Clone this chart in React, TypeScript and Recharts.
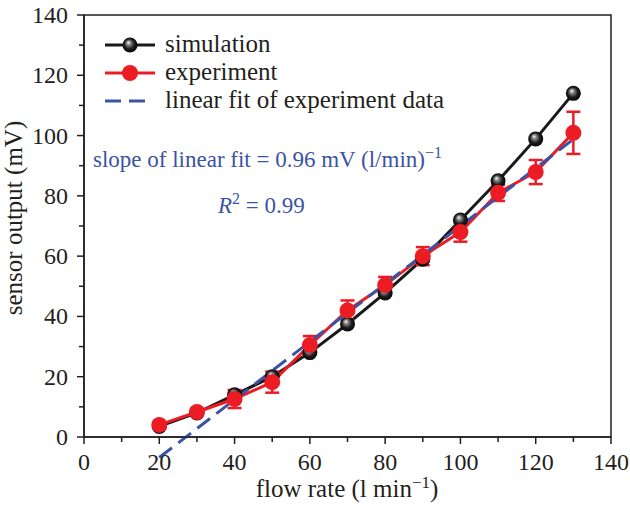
import {
  LineChart,
  Line,
  XAxis,
  YAxis,
  ErrorBar,
  ReferenceLine,
  ReferenceArea,
} from "recharts";

const flowRate = [20, 30, 40, 50, 60, 70, 80, 90, 100, 110, 120, 130];
const simulation = [3.5, 8, 14, 20, 28, 37.5, 47.8, 59, 72, 85, 98.9, 114];
const experiment = [4, 8.3, 12.6, 18.2, 30.5, 42, 50.4, 60, 68, 81, 87.9, 100.9];
const expError = [1, 1, 3, 3.5, 3, 3.3, 2.7, 3, 3.2, 2.7, 4, 7];

// linear fit of experiment data, end points
const fitX = [20, 130];
const fitY = [-6.8, 98.8];

const axisTicks = [0, 10, 20, 30, 40, 50, 60, 70, 80, 90, 100, 110, 120, 130, 140];

const data = flowRate.map((x, i) => ({
  x,
  sim: simulation[i],
  exp: experiment[i],
  err: expError[i],
}));

const FONT = "'Liberation Serif', 'Times New Roman', serif";
const RED = "#ec1c24";
const BLUE = "#3b53a4";
const INK = "#231f20";

const XTick = ({ x, y, payload }: any) => {
  const major = payload.value % 20 === 0;
  return (
    <g>
      <line x1={x} y1={y} x2={x} y2={y + (major ? 7 : 5)} stroke={INK} strokeWidth={1.5} />
      {major && (
        <text x={x} y={y + 33} textAnchor="middle" fontFamily={FONT} fontSize={24} fill={INK}>
          {payload.value}
        </text>
      )}
    </g>
  );
};

const YTick = ({ x, y, payload }: any) => {
  const major = payload.value % 20 === 0;
  return (
    <g>
      <line x1={x} y1={y} x2={x - (major ? 7 : 5)} y2={y} stroke={INK} strokeWidth={1.5} />
      {major && (
        <text x={x - 16} y={y + 8} textAnchor="end" fontFamily={FONT} fontSize={24} fill={INK}>
          {payload.value}
        </text>
      )}
    </g>
  );
};

const SimDot = ({ cx, cy, index }: any) => (
  <circle key={`s-${index}`} cx={cx} cy={cy} r={7.5} fill="url(#sphere)" />
);

const ExpDot = ({ cx, cy, index }: any) => (
  <circle key={`e-${index}`} cx={cx} cy={cy} r={8} fill={RED} />
);

export default function App() {
  return (
    <div style={{ position: "absolute", left: 0, top: 0, width: 630, height: 507 }}>
      <LineChart
        width={630}
        height={507}
        data={data}
        margin={{ top: 15, right: 19, bottom: 0, left: 0 }}
      >
        <defs>
          <radialGradient id="sphere" cx="50%" cy="50%" r="55%" fx="38%" fy="32%">
            <stop offset="0%" stopColor="#ffffff" />
            <stop offset="25%" stopColor="#8a8a8a" />
            <stop offset="60%" stopColor="#1e1e1e" />
            <stop offset="100%" stopColor="#000000" />
          </radialGradient>
        </defs>
        <XAxis
          dataKey="x"
          type="number"
          domain={[0, 140]}
          ticks={axisTicks}
          interval={0}
          height={70}
          tickSize={0}
          tickMargin={0}
          tick={XTick}
          axisLine={{ stroke: INK, strokeWidth: 1.5 }}
        />
        <YAxis
          type="number"
          domain={[0, 140]}
          ticks={axisTicks}
          interval={0}
          width={84}
          tickSize={0}
          tickMargin={0}
          tick={YTick}
          axisLine={{ stroke: INK, strokeWidth: 1.5 }}
        />
        <ReferenceArea x1={0} x2={140} y1={0} y2={140} fill="none" stroke={INK} strokeWidth={1.5} />
        <Line
          dataKey="sim"
          stroke="#1a1a1a"
          strokeWidth={3}
          dot={SimDot}
          activeDot={false}
          isAnimationActive={false}
        />
        <Line
          dataKey="exp"
          stroke={RED}
          strokeWidth={3}
          dot={ExpDot}
          activeDot={false}
          isAnimationActive={false}
        >
          <ErrorBar dataKey="err" direction="y" width={7} strokeWidth={2.5} stroke={RED} />
        </Line>
        <ReferenceLine
          segment={[
            { x: fitX[0], y: fitY[0] },
            { x: fitX[1], y: fitY[1] },
          ]}
          ifOverflow="visible"
          stroke={BLUE}
          strokeWidth={3}
          strokeDasharray="16 8"
        />
      </LineChart>
      <svg
        width={630}
        height={507}
        style={{ position: "absolute", left: 0, top: 0, pointerEvents: "none" }}
        fontFamily={FONT}
      >
        <defs>
          <radialGradient id="sphere2" cx="50%" cy="50%" r="55%" fx="38%" fy="32%">
            <stop offset="0%" stopColor="#ffffff" />
            <stop offset="25%" stopColor="#8a8a8a" />
            <stop offset="60%" stopColor="#1e1e1e" />
            <stop offset="100%" stopColor="#000000" />
          </radialGradient>
        </defs>
        {/* legend */}
        <line x1={105} y1={45} x2={155} y2={45} stroke="#1a1a1a" strokeWidth={3} />
        <circle cx={130} cy={45} r={7.5} fill="url(#sphere2)" />
        <text x={165} y={52} fontSize={25} fill={INK}>simulation</text>
        <line x1={105} y1={73} x2={155} y2={73} stroke={RED} strokeWidth={3} />
        <circle cx={130} cy={73} r={8} fill={RED} />
        <text x={165} y={80} fontSize={25} fill={INK}>experiment</text>
        <line x1={105} y1={101} x2={147} y2={101} stroke={BLUE} strokeWidth={3} strokeDasharray="16 8" />
        <text x={165} y={108} fontSize={25} fill={INK}>linear fit of experiment data</text>

        {/* fit annotation */}
        <text x={93} y={167} fontSize={23} fill={BLUE}>
          slope of linear fit = 0.96 mV (l/min)
          <tspan dy={-9} fontSize={16}>−1</tspan>
        </text>
        <text x={218} y={213} fontSize={23} fill={BLUE}>
          <tspan fontStyle="italic">R</tspan>
          <tspan dy={-9} fontSize={16}>2</tspan>
          <tspan dy={9}> = 0.99</tspan>
        </text>

        {/* axis titles */}
        <text x={347} y={497} textAnchor="middle" fontSize={25} fill={INK}>
          flow rate (l min
          <tspan dy={-9} fontSize={17}>−1</tspan>
          <tspan dy={9}>)</tspan>
        </text>
        <text
          x={22}
          y={218}
          textAnchor="middle"
          fontSize={25}
          fill={INK}
          transform="rotate(-90, 22, 218)"
        >
          sensor output (mV)
        </text>
      </svg>
    </div>
  );
}
